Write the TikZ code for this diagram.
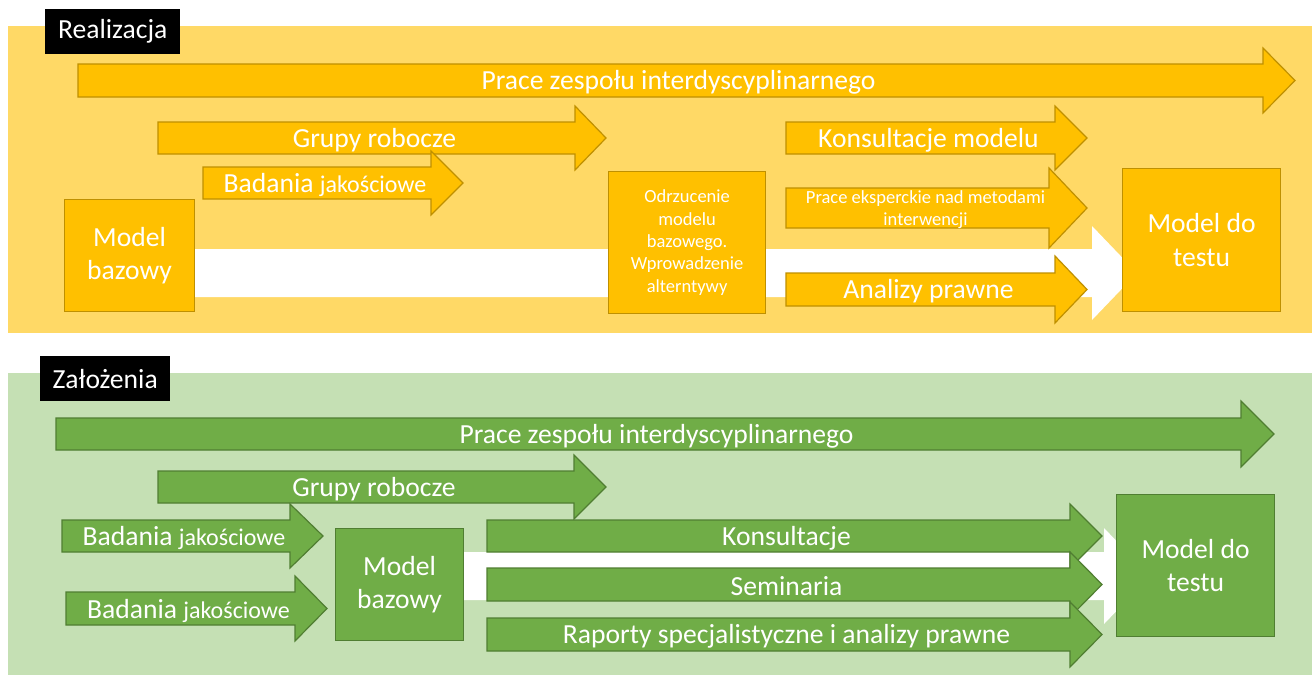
\documentclass[tikz,border=0pt]{standalone}
\usepackage{fontspec}
\setmainfont{Carlito}
\definecolor{ypanel}{HTML}{FFD966}
\definecolor{gold}{HTML}{FFC000}
\definecolor{golddark}{HTML}{BF9000}
\definecolor{gpanel}{HTML}{C5E0B4}
\definecolor{grn}{HTML}{70AD47}
\definecolor{grndark}{HTML}{507E32}

% Block arrow: style, name, x left, y top, y bottom, x head base, x tip, head overhang, text
\newcommand\blockarrow[9]{%
  \path[#1] (#3,#4) -- (#6,#4) -- (#6,#4-#8) -- (#7,{(#4+#5)/2}) -- (#6,#5+#8)
    -- (#6,#5) -- (#3,#5) -- cycle
    node[inner sep=0pt, yshift=-2pt] (#2) at ({(#3+#6)/2+8},{(#4+#5)/2}) {#9};%
}

\begin{document}
\begin{tikzpicture}[x=1pt,y=-1pt,
  big/.style={font=\fontsize{27.6}{33.7}\selectfont, text=white, align=center},
  small/.style={font=\fontsize{18.5}{22.3}\selectfont, text=white, align=center},
  yarrow/.style={fill=gold, draw=golddark, line width=1.2pt, line join=miter},
  garrow/.style={fill=grn, draw=grndark, line width=1.2pt, line join=miter},
  warrow/.style={fill=white},
  ybox/.style={rectangle, fill=gold, draw=golddark, line width=1.2pt, anchor=north west, inner sep=0pt},
  gbox/.style={rectangle, fill=grn, draw=grndark, line width=1.2pt, anchor=north west, inner sep=0pt},
  lbl/.style={rectangle, fill=black, text=white, anchor=north west, inner sep=0pt,
    font=\fontsize{27.6}{33.7}\selectfont},
]
\useasboundingbox (0,0) rectangle (1312,675);

% ---------- Realizacja ----------
\fill[ypanel] (8,26) rectangle (1312,333);
\node[lbl, minimum width=135pt, minimum height=45pt] (lreal) at (45,9) {Realizacja};

\blockarrow{warrow}{ywhite}{150}{249}{297}{1092}{1137}{23}{}
\blockarrow{yarrow,big}{yteam}{78}{64}{97}{1263}{1295}{16}{Prace zespołu interdyscyplinarnego}
\blockarrow{yarrow,big}{ygroups}{158}{122}{154}{575}{606}{16}{Grupy robocze}
\blockarrow{yarrow,big}{ystudy}{203}{167}{199}{431}{463}{16}{Badania {\fontsize{24}{29}\selectfont jakościowe}}
\blockarrow{yarrow,big}{ycons}{786}{122}{154}{1055}{1087}{16}{Konsultacje modelu}
\blockarrow{yarrow,small}{yexpert}{786}{188}{228}{1049}{1087}{20}{Prace eksperckie nad metodami\\interwencji}
\blockarrow{yarrow,big}{ylaw}{786}{273}{306}{1055}{1087}{17}{Analizy prawne}

\node[ybox, big, minimum width=130pt, minimum height=112pt] (ybase) at (64,199) {Model\\bazowy};
\node[ybox, small, minimum width=157pt, minimum height=142pt] (yreject) at (608,171)
  {Odrzucenie\\modelu\\bazowego.\\Wprowadzenie\\alterntywy};
\node[ybox, big, minimum width=158pt, minimum height=143pt] (ytest) at (1122,168) {Model do\\testu};

% ---------- Założenia ----------
\fill[gpanel] (8,373) rectangle (1312,675);
\node[lbl, minimum width=130pt, minimum height=45pt] (lassump) at (40,356) {Założenia};

\blockarrow{warrow}{gwhite}{400}{552}{600}{1104}{1150}{24}{}
\blockarrow{garrow,big}{gteam}{56}{418}{450}{1241}{1274}{17}{Prace zespołu interdyscyplinarnego}
\blockarrow{garrow,big}{ggroups}{158}{471}{503}{574}{606}{16}{Grupy robocze}
\blockarrow{garrow,big}{gstudya}{62}{520}{552}{290}{323}{16}{Badania {\fontsize{24}{29}\selectfont jakościowe}}
\blockarrow{garrow,big}{gstudyb}{66}{592}{625}{295}{327}{16}{Badania {\fontsize{24}{29}\selectfont jakościowe}}
\blockarrow{garrow,big}{gcons}{487}{520}{552}{1070}{1102}{16}{Konsultacje}
\blockarrow{garrow,big}{gsem}{487}{568}{601}{1070}{1102}{16}{Seminaria}
\blockarrow{garrow,big}{greport}{487}{618}{651}{1070}{1102}{16}{Raporty specjalistyczne i analizy prawne}

\node[gbox, big, minimum width=128pt, minimum height=112pt] (gbase) at (335,528) {Model\\bazowy};
\node[gbox, big, minimum width=158pt, minimum height=142pt] (gtest) at (1116,494) {Model do\\testu};
\end{tikzpicture}
\end{document}
